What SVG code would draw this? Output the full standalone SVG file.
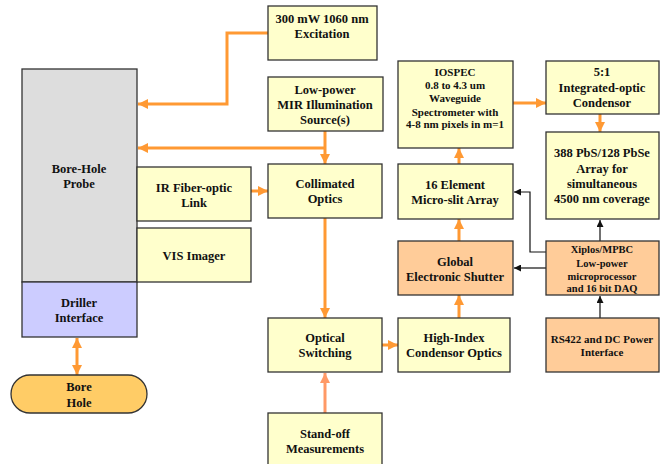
<svg xmlns="http://www.w3.org/2000/svg" width="664" height="464" viewBox="0 0 664 464">
<defs>
<style>
.b{stroke:#333;stroke-width:1.3}
.y{fill:#FFFFCC}
.p{fill:#FFCC99}
.t{font-family:"Liberation Serif","Times New Roman",serif;font-weight:bold;font-size:12.5px;fill:#111;text-anchor:middle}
.s{font-size:11px}
.xs{font-size:10.5px}
.o{stroke:#FF9933;stroke-width:3;fill:none}
.k{stroke:#111;stroke-width:1.2;fill:none}
</style>
<marker id="ao" viewBox="0 0 10 10" refX="10" refY="5" markerWidth="10" markerHeight="10" markerUnits="userSpaceOnUse" orient="auto-start-reverse"><path d="M0,0 L10,5 L0,10 z" fill="#FF9933"/></marker>
<marker id="as" viewBox="0 0 10 10" refX="10" refY="5" markerWidth="10" markerHeight="10" markerUnits="userSpaceOnUse" orient="auto"><path d="M0,0 L10,5 L0,10 z" fill="#FF9966"/></marker>
<marker id="ak" viewBox="0 0 10 10" refX="10" refY="5" markerWidth="7" markerHeight="7" markerUnits="userSpaceOnUse" orient="auto"><path d="M0,0 L10,5 L0,10 z" fill="#111"/></marker>
</defs>
<rect width="664" height="464" fill="#fff"/>

<g id="connectors">
<polyline class="o" points="268,33 227,33 227,104 138,104" marker-end="url(#ao)"/>
<line class="o" x1="325" y1="131" x2="325" y2="164" marker-end="url(#ao)"/>
<line class="o" x1="325" y1="148" x2="138" y2="148" marker-end="url(#ao)"/>
<line class="o" x1="251" y1="191" x2="268" y2="191" marker-end="url(#ao)"/>
<line class="o" x1="325" y1="218" x2="325" y2="318" marker-end="url(#ao)"/>
<line class="o" x1="77" y1="338" x2="77" y2="375" marker-start="url(#ao)" marker-end="url(#ao)"/>
<line x1="325" y1="413" x2="325" y2="373" stroke="#FF9966" stroke-width="3" marker-end="url(#as)"/>
<line class="o" x1="382" y1="345" x2="398" y2="345" marker-end="url(#ao)"/>
<line class="o" x1="459" y1="318" x2="459" y2="295" marker-end="url(#ao)"/>
<line class="o" x1="459" y1="241" x2="459" y2="219" marker-end="url(#ao)"/>
<line class="o" x1="459" y1="164" x2="459" y2="148" marker-end="url(#ao)"/>
<line class="o" x1="513" y1="103" x2="546" y2="103" marker-end="url(#ao)"/>
<line class="o" x1="600" y1="114" x2="600" y2="132" marker-end="url(#ao)"/>
<line class="k" x1="546" y1="268" x2="514" y2="268" marker-end="url(#ak)"/>
<polyline class="k" points="546,252 530,252 530,192 514,192" marker-end="url(#ak)"/>
<line class="k" x1="600" y1="241" x2="600" y2="220" marker-end="url(#ak)"/>
<line class="k" x1="600" y1="318" x2="600" y2="296" marker-end="url(#ak)"/>
</g>

<g id="excitation"><rect class="b y" x="268" y="6" width="109" height="54"/><text class="t" x="322" y="23">300 mW 1060 nm</text><text class="t" x="322" y="38">Excitation</text></g>
<g id="probe"><rect class="b" fill="#DDDDDD" x="22" y="69" width="115" height="213"/><text class="t" x="79" y="173">Bore-Hole</text><text class="t" x="79" y="188">Probe</text></g>
<g id="driller"><rect class="b" fill="#CCCCFF" x="22" y="282" width="115" height="55"/><text class="t" x="79" y="307">Driller</text><text class="t" x="79" y="322">Interface</text></g>
<g id="borehole"><rect class="b" fill="#FFCC66" x="11" y="375" width="136" height="38" rx="19" ry="19"/><text class="t" x="79" y="391">Bore</text><text class="t" x="79" y="407">Hole</text></g>
<g id="mir"><rect class="b y" x="268" y="77" width="115" height="54"/><text class="t" x="325" y="94">Low-power</text><text class="t" x="325" y="109">MIR Illumination</text><text class="t" x="325" y="124">Source(s)</text></g>
<g id="irlink"><rect class="b y" x="137" y="167" width="114" height="54"/><text class="t" x="194" y="192">IR Fiber-optic</text><text class="t" x="194" y="207">Link</text></g>
<g id="vis"><rect class="b y" x="137" y="228" width="114" height="54"/><text class="t" x="194" y="260">VIS Imager</text></g>
<g id="collimated"><rect class="b y" x="268" y="164" width="114" height="54"/><text class="t" x="325" y="188">Collimated</text><text class="t" x="325" y="203">Optics</text></g>
<g id="switching"><rect class="b y" x="268" y="318" width="114" height="54"/><text class="t" x="325" y="342">Optical</text><text class="t" x="325" y="357">Switching</text></g>
<g id="standoff"><rect class="b y" x="268" y="413" width="114" height="60"/><text class="t" x="325" y="438">Stand-off</text><text class="t" x="325" y="453">Measurements</text></g>
<g id="highindex"><rect class="b y" x="398" y="318" width="112" height="54"/><text class="t" x="454" y="342">High-Index</text><text class="t" x="454" y="357">Condensor Optics</text></g>
<g id="shutter"><rect class="b p" x="398" y="241" width="115" height="54"/><text class="t" x="455" y="266">Global</text><text class="t" x="455" y="281">Electronic Shutter</text></g>
<g id="microslit"><rect class="b y" x="398" y="164" width="115" height="55"/><text class="t" x="455" y="189">16 Element</text><text class="t" x="455" y="204">Micro-slit Array</text></g>
<g id="iospec"><rect class="b y" x="398" y="61" width="115" height="87"/><text class="t s" x="455" y="76">IOSPEC</text><text class="t s" x="455" y="89">0.8 to 4.3 um</text><text class="t s" x="455" y="102">Waveguide</text><text class="t s" x="455" y="116">Spectrometer with</text><text class="t s" x="455" y="128">4-8 nm pixels in m=1</text></g>
<g id="condensor"><rect class="b y" x="546" y="61" width="113" height="53"/><text class="t" x="602" y="76">5:1</text><text class="t" x="602" y="92">Integrated-optic</text><text class="t" x="602" y="107">Condensor</text></g>
<g id="array"><rect class="b y" x="546" y="132" width="113" height="87"/><text class="t" x="602" y="157">388 PbS/128 PbSe</text><text class="t" x="602" y="173">Array for</text><text class="t" x="602" y="188">simultaneous</text><text class="t" x="602" y="203">4500 nm coverage</text></g>
<g id="xiplos"><rect class="b p" x="546" y="241" width="113" height="54"/><text class="t xs" x="602" y="253">Xiplos/MPBC</text><text class="t xs" x="602" y="267">Low-power</text><text class="t xs" x="602" y="280">microprocessor</text><text class="t xs" x="602" y="292">and 16 bit DAQ</text></g>
<g id="rs422"><rect class="b p" x="546" y="318" width="113" height="54"/><text class="t s" x="602" y="343">RS422 and DC Power</text><text class="t s" x="602" y="356">Interface</text></g>
</svg>
